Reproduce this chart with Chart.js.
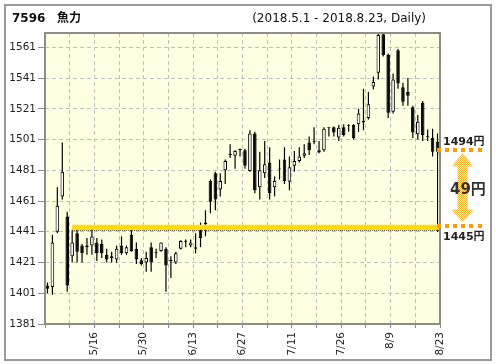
<!DOCTYPE html>
<html>
<head>
<meta charset="utf-8">
<title>7596 魚力</title>
<script src="https://cdn.jsdelivr.net/npm/chart.js@4.4.1/dist/chart.umd.min.js"></script>
<style>
  html, body { margin: 0; padding: 0; background: #fff; }
</style>
</head>
<body>
<canvas id="candleChart" width="496" height="364"></canvas>
<script>
const stockCode = '7596';
const stockName = '魚力';
const period = '(2018.5.1 - 2018.8.23, Daily)';

const dates = [
    '5/1', '5/2', '5/7', '5/8', '5/9', '5/10', '5/11', '5/14', '5/15', '5/16',
    '5/17', '5/18', '5/21', '5/22', '5/23', '5/24', '5/25', '5/28', '5/29', '5/30',
    '5/31', '6/1', '6/4', '6/5', '6/6', '6/7', '6/8', '6/11', '6/12', '6/13',
    '6/14', '6/15', '6/18', '6/19', '6/20', '6/21', '6/22', '6/25', '6/26', '6/27',
    '6/28', '6/29', '7/2', '7/3', '7/4', '7/5', '7/6', '7/9', '7/10', '7/11',
    '7/12', '7/13', '7/17', '7/18', '7/19', '7/20', '7/23', '7/24', '7/25', '7/26',
    '7/27', '7/30', '7/31', '8/1', '8/2', '8/3', '8/6', '8/7', '8/8', '8/9',
    '8/10', '8/13', '8/14', '8/15', '8/16', '8/17', '8/20', '8/21', '8/22', '8/23'
];

const opens = [
    1406, 1405, 1441, 1464, 1451, 1425, 1440, 1432, 1432, 1432,
    1434, 1433, 1426, 1425, 1423, 1432, 1427, 1439, 1430, 1422.5,
    1421, 1431, 1427.5, 1428.5, 1430, 1422, 1421, 1430, 1434.5, 1432,
    1430, 1442, 1446, 1474, 1479, 1468.5, 1481, 1491, 1490.5, 1495,
    1494, 1480.5, 1505, 1470, 1479, 1486, 1470, 1481.5, 1488, 1473.5,
    1484, 1487, 1490.5, 1499, 1499.5, 1494, 1494, 1508.7, 1509, 1502.4,
    1509, 1510.5, 1510.4, 1511, 1512, 1515, 1535.5, 1544.5, 1569.5, 1556,
    1519, 1559, 1535, 1532, 1522, 1504.5, 1525, 1503, 1502, 1499.5
];
const highs = [
    1408, 1439, 1470, 1499, 1454, 1442, 1442, 1433, 1437, 1443,
    1437, 1436, 1430, 1428, 1432, 1438, 1432, 1442, 1434, 1424,
    1428, 1434, 1430, 1434, 1431, 1425, 1428, 1435.5, 1436, 1436,
    1440, 1447, 1455, 1475, 1480, 1479, 1488, 1498, 1494, 1495,
    1495, 1507, 1506, 1493, 1500, 1496, 1477, 1488, 1496, 1490,
    1493.5, 1496, 1498, 1503, 1509, 1500, 1509, 1509, 1509.5, 1510.4,
    1511, 1511, 1511, 1521, 1534, 1532, 1542, 1570, 1570, 1557,
    1544, 1560, 1538, 1541, 1523, 1517, 1526, 1507.5, 1508, 1505
];
const lows = [
    1401, 1400, 1440, 1462, 1402, 1421, 1421, 1421, 1426, 1426,
    1422, 1424, 1421, 1421, 1421, 1426, 1426, 1428, 1420, 1419,
    1415, 1415, 1424, 1428, 1402, 1411, 1420, 1429.5, 1431, 1431,
    1427, 1431, 1438, 1453, 1455, 1464, 1472, 1489, 1482, 1490,
    1482, 1480, 1466, 1462, 1476, 1462, 1464, 1475, 1472, 1468,
    1480, 1486, 1489, 1491, 1498, 1492, 1493, 1503, 1503, 1500,
    1503, 1506, 1501, 1506, 1507, 1514, 1533.5, 1540, 1555, 1515,
    1518, 1534, 1523, 1523, 1502, 1501, 1500, 1500, 1490, 1491
];
const closes = [
    1404, 1434, 1458, 1480, 1406, 1434, 1428, 1427, 1431, 1438,
    1427, 1427, 1423, 1424, 1430, 1427, 1431, 1428.5, 1423, 1420,
    1424, 1421, 1427, 1434, 1419, 1422.5, 1427, 1435, 1435, 1434,
    1431, 1437, 1447, 1460.5, 1462, 1474, 1487, 1491, 1493.5, 1494,
    1484, 1505, 1468, 1481, 1485, 1466, 1474, 1482, 1474, 1483,
    1487, 1490, 1492, 1494, 1499.5, 1492.5, 1508, 1508.7, 1505.5, 1508.7,
    1504, 1510, 1502, 1518, 1513, 1524, 1538.5, 1569, 1556, 1518.5,
    1540, 1537.5, 1525.5, 1529.5, 1505.5, 1512.5, 1504, 1502.5, 1493, 1493
];

const yTicks = [1381, 1401, 1421, 1441, 1461, 1481, 1501, 1521, 1541, 1561];
const yMin = 1381;
const yMax = 1570.3;

// reference price band and the price move annotation
const bandStart = 5;       // candle index where the band starts
const bandPrice = 1444;
const basePrice = 1445;
const lastPrice = 1494;

const FONT = '"DejaVu Sans", "Noto Sans CJK JP", sans-serif';

/**
 * 2x2 dither pattern (like the old GDI hatch fills)
 */
function dither(a, b) {
    const c = document.createElement('canvas');
    c.width = 2; c.height = 2;
    const g = c.getContext('2d');
    if (b) { g.fillStyle = b; g.fillRect(0, 0, 2, 2); }
    g.fillStyle = a;
    g.fillRect(0, 0, 1, 1);
    g.fillRect(1, 1, 1, 1);
    return g.createPattern(c, 'repeat');
}

const plotFill = dither('#ffffe2', '#ffffff');
const bandFill = dither('#ffd200', '#fff000');
const arrowFill = dither('#ffaa2a', '#ffffff');

/**
 * Backgrounds, frames and text annotations
 */
const framePlugin = {
    id: 'frame',
    beforeDraw(chart) {
        const { ctx, chartArea: a } = chart;
        ctx.save();
        ctx.fillStyle = '#fff';
        ctx.fillRect(0, 0, chart.width, chart.height);
        ctx.strokeStyle = '#9a9a9a';
        ctx.lineWidth = 2;
        ctx.strokeRect(5, 5, 486, 355);
        ctx.fillStyle = plotFill;
        ctx.fillRect(a.left, a.top, a.width, a.height);
        ctx.restore();
    },
    afterDraw(chart) {
        const { ctx, chartArea: a, scales: { x, y } } = chart;
        ctx.save();

        // plot frame
        ctx.strokeStyle = '#8c8c8c';
        ctx.lineWidth = 2;
        ctx.strokeRect(a.left, a.top, a.width, a.height);

        // title line
        ctx.fillStyle = '#111';
        ctx.textBaseline = 'alphabetic';
        ctx.textAlign = 'left';
        ctx.font = 'bold 12px ' + FONT;
        ctx.fillText(stockCode, 12, 22);
        ctx.font = 'bold 12px "Noto Sans CJK JP", sans-serif';
        ctx.fillText(stockName, 57, 22);
        ctx.font = '12px ' + FONT;
        ctx.textAlign = 'right';
        ctx.fillText(period, 426, 22);

        // price move annotation on the right
        const yTop = y.getPixelForValue(lastPrice);
        const yBot = y.getPixelForValue(basePrice);
        const x0 = x.getPixelForValue(dates.length - 0.5) - 1;

        ctx.fillStyle = '#ff9a00';
        for (let k = 0; k < 6; k++) {
            ctx.fillRect(Math.round(x0 + k * 8.2), Math.round(yTop) - 2, 4, 4);
            ctx.fillRect(Math.round(x0 + k * 8.2), Math.round(yBot) - 2, 4, 4);
        }

        const cx = 462.5, top = yTop + 3, bot = yBot - 3;
        const head = 13, hw = 11, sw = 5;
        ctx.fillStyle = arrowFill;
        ctx.beginPath();
        ctx.moveTo(cx, top);
        ctx.lineTo(cx + hw, top + head);
        ctx.lineTo(cx + sw, top + head);
        ctx.lineTo(cx + sw, bot - head);
        ctx.lineTo(cx + hw, bot - head);
        ctx.lineTo(cx, bot);
        ctx.lineTo(cx - hw, bot - head);
        ctx.lineTo(cx - sw, bot - head);
        ctx.lineTo(cx - sw, top + head);
        ctx.lineTo(cx - hw, top + head);
        ctx.closePath();
        ctx.fill();

        ctx.textAlign = 'left';
        ctx.fillStyle = '#222';
        ctx.font = 'bold 11px ' + FONT;
        ctx.fillText(lastPrice + '円', 443, yTop - 5);
        ctx.fillText(basePrice + '円', 443, yBot + 14);
        ctx.font = 'bold 15px ' + FONT;
        ctx.fillStyle = '#333';
        ctx.fillText((lastPrice - basePrice) + '円', 450, (yTop + yBot) / 2 + 6);

        ctx.restore();
    }
};

const wickData = dates.map((d, i) => ({ x: i + 0.5, y: [lows[i], highs[i]] }));
const bodyData = dates.map((d, i) => ({ x: i + 0.5, y: [opens[i], closes[i]] }));
const bodyColors = dates.map((d, i) => closes[i] >= opens[i] ? '#ffffff' : '#000000');

const ctx = document.getElementById('candleChart');
new Chart(ctx, {
    type: 'bar',
    data: {
        datasets: [
            {
                type: 'line',
                data: [{ x: bandStart + 0.5, y: bandPrice }, { x: dates.length, y: bandPrice }],
                borderColor: bandFill,
                borderWidth: 5,
                pointRadius: 0,
                order: -2
            },
            {
                type: 'line',
                data: [{ x: bandStart + 0.5, y: 1442 }, { x: dates.length, y: 1442 }],
                borderColor: '#000',
                borderWidth: 1,
                borderDash: [1, 1],
                pointRadius: 0,
                order: -1
            },
            {
                type: 'line',
                data: [{ x: dates.length - 0.5, y: closes[closes.length - 1] }, { x: dates.length - 0.5, y: 1441 }],
                borderColor: '#000',
                borderWidth: 1,
                pointRadius: 0,
                order: -1
            },
            {
                data: bodyData,
                backgroundColor: bodyColors,
                borderColor: '#000',
                borderWidth: 1,
                borderSkipped: false,
                minBarLength: 1,
                maxBarThickness: 4,
                grouped: false,
                order: 0
            },
            {
                data: wickData,
                backgroundColor: '#000',
                borderWidth: 0,
                maxBarThickness: 1.2,
                grouped: false,
                order: 1
            }
        ]
    },
    options: {
        responsive: false,
        animation: false,
        events: [],
        layout: { padding: { top: 33, right: 56, left: 0, bottom: 0 } },
        plugins: {
            legend: { display: false },
            tooltip: { enabled: false }
        },
        scales: {
            x: {
                type: 'linear',
                min: 0,
                max: dates.length,
                offset: false,
                afterBuildTicks: (scale) => {
                    const t = [];
                    for (let v = 0; v <= dates.length; v += 5) t.push({ value: v });
                    scale.ticks = t;
                },
                afterFit: (scale) => { scale.height = 40; },
                grid: {
                    color: '#c0c0c0',
                    offset: false,
                    tickLength: 4,
                    tickColor: '#8c8c8c',
                    tickBorderDash: []
                },
                border: { display: false, dash: [4, 3] },
                ticks: {
                    autoSkip: false,
                    minRotation: 90,
                    maxRotation: 90,
                    padding: 4,
                    color: '#222',
                    font: { family: FONT, size: 10.5 },
                    callback: (v) => (v > 0 && v % 10 === 0) ? dates[v - 1] : ''
                }
            },
            y: {
                min: yMin,
                max: yMax,
                beginAtZero: false,
                afterBuildTicks: (scale) => {
                    scale.ticks = yTicks.map(v => ({ value: v }));
                },
                afterFit: (scale) => { scale.width = 45; },
                grid: {
                    color: '#c0c0c0',
                    tickLength: 7,
                    tickColor: '#8c8c8c',
                    tickBorderDash: []
                },
                border: { display: false, dash: [4, 3] },
                ticks: {
                    padding: 2,
                    color: '#222',
                    font: { family: FONT, size: 10.5 },
                    callback: (v) => String(v)
                }
            }
        }
    },
    plugins: [framePlugin]
});
</script>
</body>
</html>
